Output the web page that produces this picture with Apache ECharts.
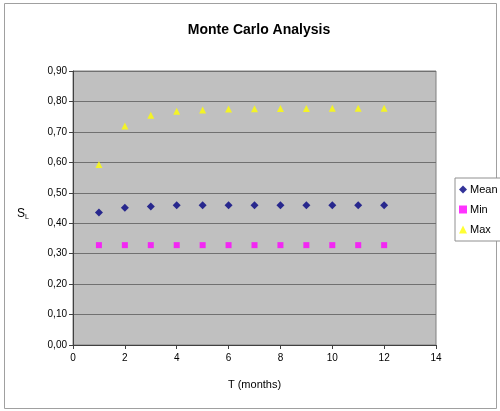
<!DOCTYPE html>
<html><head><meta charset="utf-8">
<script src="https://cdn.jsdelivr.net/npm/echarts@6/dist/echarts.min.js"></script>
<style>html,body{margin:0;padding:0;background:#fff}#c{width:500px;height:411px}</style>
</head><body><div id="c"></div>
<script>
const months = [1,2,3,4,5,6,7,8,9,10,11,12];
const meanVals = [0.435,0.451,0.455,0.459,0.459,0.459,0.459,0.459,0.459,0.459,0.459,0.459];
const minVals  = [0.328,0.328,0.328,0.328,0.328,0.328,0.328,0.328,0.328,0.328,0.328,0.328];
const maxVals  = [0.593,0.719,0.755,0.768,0.772,0.775,0.776,0.777,0.777,0.778,0.778,0.778];
const xTicks = [0,2,4,6,8,10,12,14];
const yTicks = [0,0.1,0.2,0.3,0.4,0.5,0.6,0.7,0.8,0.9];

const font = 'Liberation Sans, Arial, sans-serif';
const chart = echarts.init(document.getElementById('c'));
function pts(v){ return months.map((m,i)=>[m,v[i]]); }
chart.setOption({
  animation:false,
  backgroundColor:'#fff',
  textStyle:{fontFamily:font},
  title:{text:'Monte Carlo Analysis',left:254,top:18,textAlign:'center',
    textStyle:{fontSize:14,fontWeight:'bold',color:'#000',fontFamily:font}},
  graphic:[{type:'rect',shape:{x:4.5,y:3.5,width:492,height:405},
    style:{fill:'none',stroke:'#a0a0a0',lineWidth:1},z:-1}],
  grid:{left:73,right:64,top:71,bottom:66,show:true,backgroundColor:'#c0c0c0',borderColor:'#808080',borderWidth:1},
  legend:{orient:'vertical',left:455,top:178,itemGap:9,itemWidth:8,itemHeight:8,
    padding:[6,6,6,4],borderColor:'#909090',borderWidth:1,backgroundColor:'#fff',
    textStyle:{fontSize:11,color:'#000',fontFamily:font,padding:[0,0,0,-2]},
    data:['Mean','Min','Max']},
  xAxis:{type:'value',min:xTicks[0],max:xTicks[xTicks.length-1],interval:2,
    axisLine:{show:true,lineStyle:{color:'#404040'}},
    axisTick:{show:true,length:4,lineStyle:{color:'#404040'}},
    splitLine:{show:false},
    axisLabel:{fontSize:10,color:'#000',margin:8,fontFamily:font},
    name:'T (months)',nameLocation:'middle',nameGap:34,
    nameTextStyle:{fontSize:11,color:'#000',fontFamily:font}},
  yAxis:{type:'value',min:yTicks[0],max:yTicks[yTicks.length-1],interval:0.1,
    axisLine:{show:true,lineStyle:{color:'#404040'}},
    axisTick:{show:true,length:4,lineStyle:{color:'#404040'}},
    splitLine:{show:true,lineStyle:{color:'#707070',width:1}},
    axisLabel:{fontSize:10,color:'#000',margin:6,fontFamily:font,
      formatter:v=>v.toFixed(2).replace('.',',')},
    name:'{s|S}{l|L}',nameLocation:'middle',nameGap:44,nameRotate:0,
    nameTextStyle:{padding:[12,0,0,0],rich:{s:{fontSize:12,color:'#000',fontFamily:font},
      l:{fontSize:7,color:'#000',fontFamily:font,padding:[7,0,0,0]}}}},
  series:[
    {name:'Mean',type:'scatter',symbol:'diamond',symbolSize:8,
      itemStyle:{color:'#000080'},data:pts(meanVals)},
    {name:'Min',type:'scatter',symbol:'rect',symbolSize:6,
      itemStyle:{color:'#ff00ff'},data:pts(minVals)},
    {name:'Max',type:'scatter',symbol:'triangle',symbolSize:7,
      itemStyle:{color:'#ffff00'},data:pts(maxVals)}
  ]
});
</script></body></html>
